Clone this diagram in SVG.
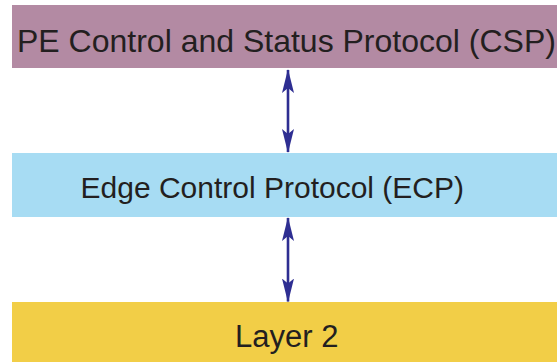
<svg xmlns="http://www.w3.org/2000/svg" width="557" height="362" viewBox="0 0 557 362">
<style>
.lbl{font-family:"Liberation Sans",Arial,sans-serif;fill:#231f20}
.conn{stroke:#2e2e92;stroke-width:2.6;fill:none}
</style>
<defs>
<marker id="ah" viewBox="0 0 24 12" refX="23" refY="6" markerWidth="24" markerHeight="12" markerUnits="userSpaceOnUse" orient="auto-start-reverse">
<path d="M24,6 L0,0 L5,6 L0,12 Z" fill="#2e2e92"/>
</marker>
</defs>
<rect width="557" height="362" fill="#fff"/>
<g id="csp">
<rect x="12" y="5" width="545" height="63" fill="#b38aa3"/>
<text class="lbl" x="17" y="52" font-size="32">PE Control and Status Protocol (CSP)</text>
</g>
<g id="ecp">
<rect x="12" y="153" width="545" height="64" fill="#a7dcf3"/>
<text class="lbl" x="80.5" y="198" font-size="30">Edge Control Protocol (ECP)</text>
</g>
<g id="layer2">
<rect x="12" y="302" width="545" height="60" fill="#f2ce47"/>
<text class="lbl" x="235" y="347" font-size="31">Layer 2</text>
</g>
<g id="connectors">
<line class="conn" x1="288" y1="70" x2="288" y2="152" marker-start="url(#ah)" marker-end="url(#ah)"/>
<line class="conn" x1="288" y1="218" x2="288" y2="301.5" marker-start="url(#ah)" marker-end="url(#ah)"/>
</g>
</svg>
